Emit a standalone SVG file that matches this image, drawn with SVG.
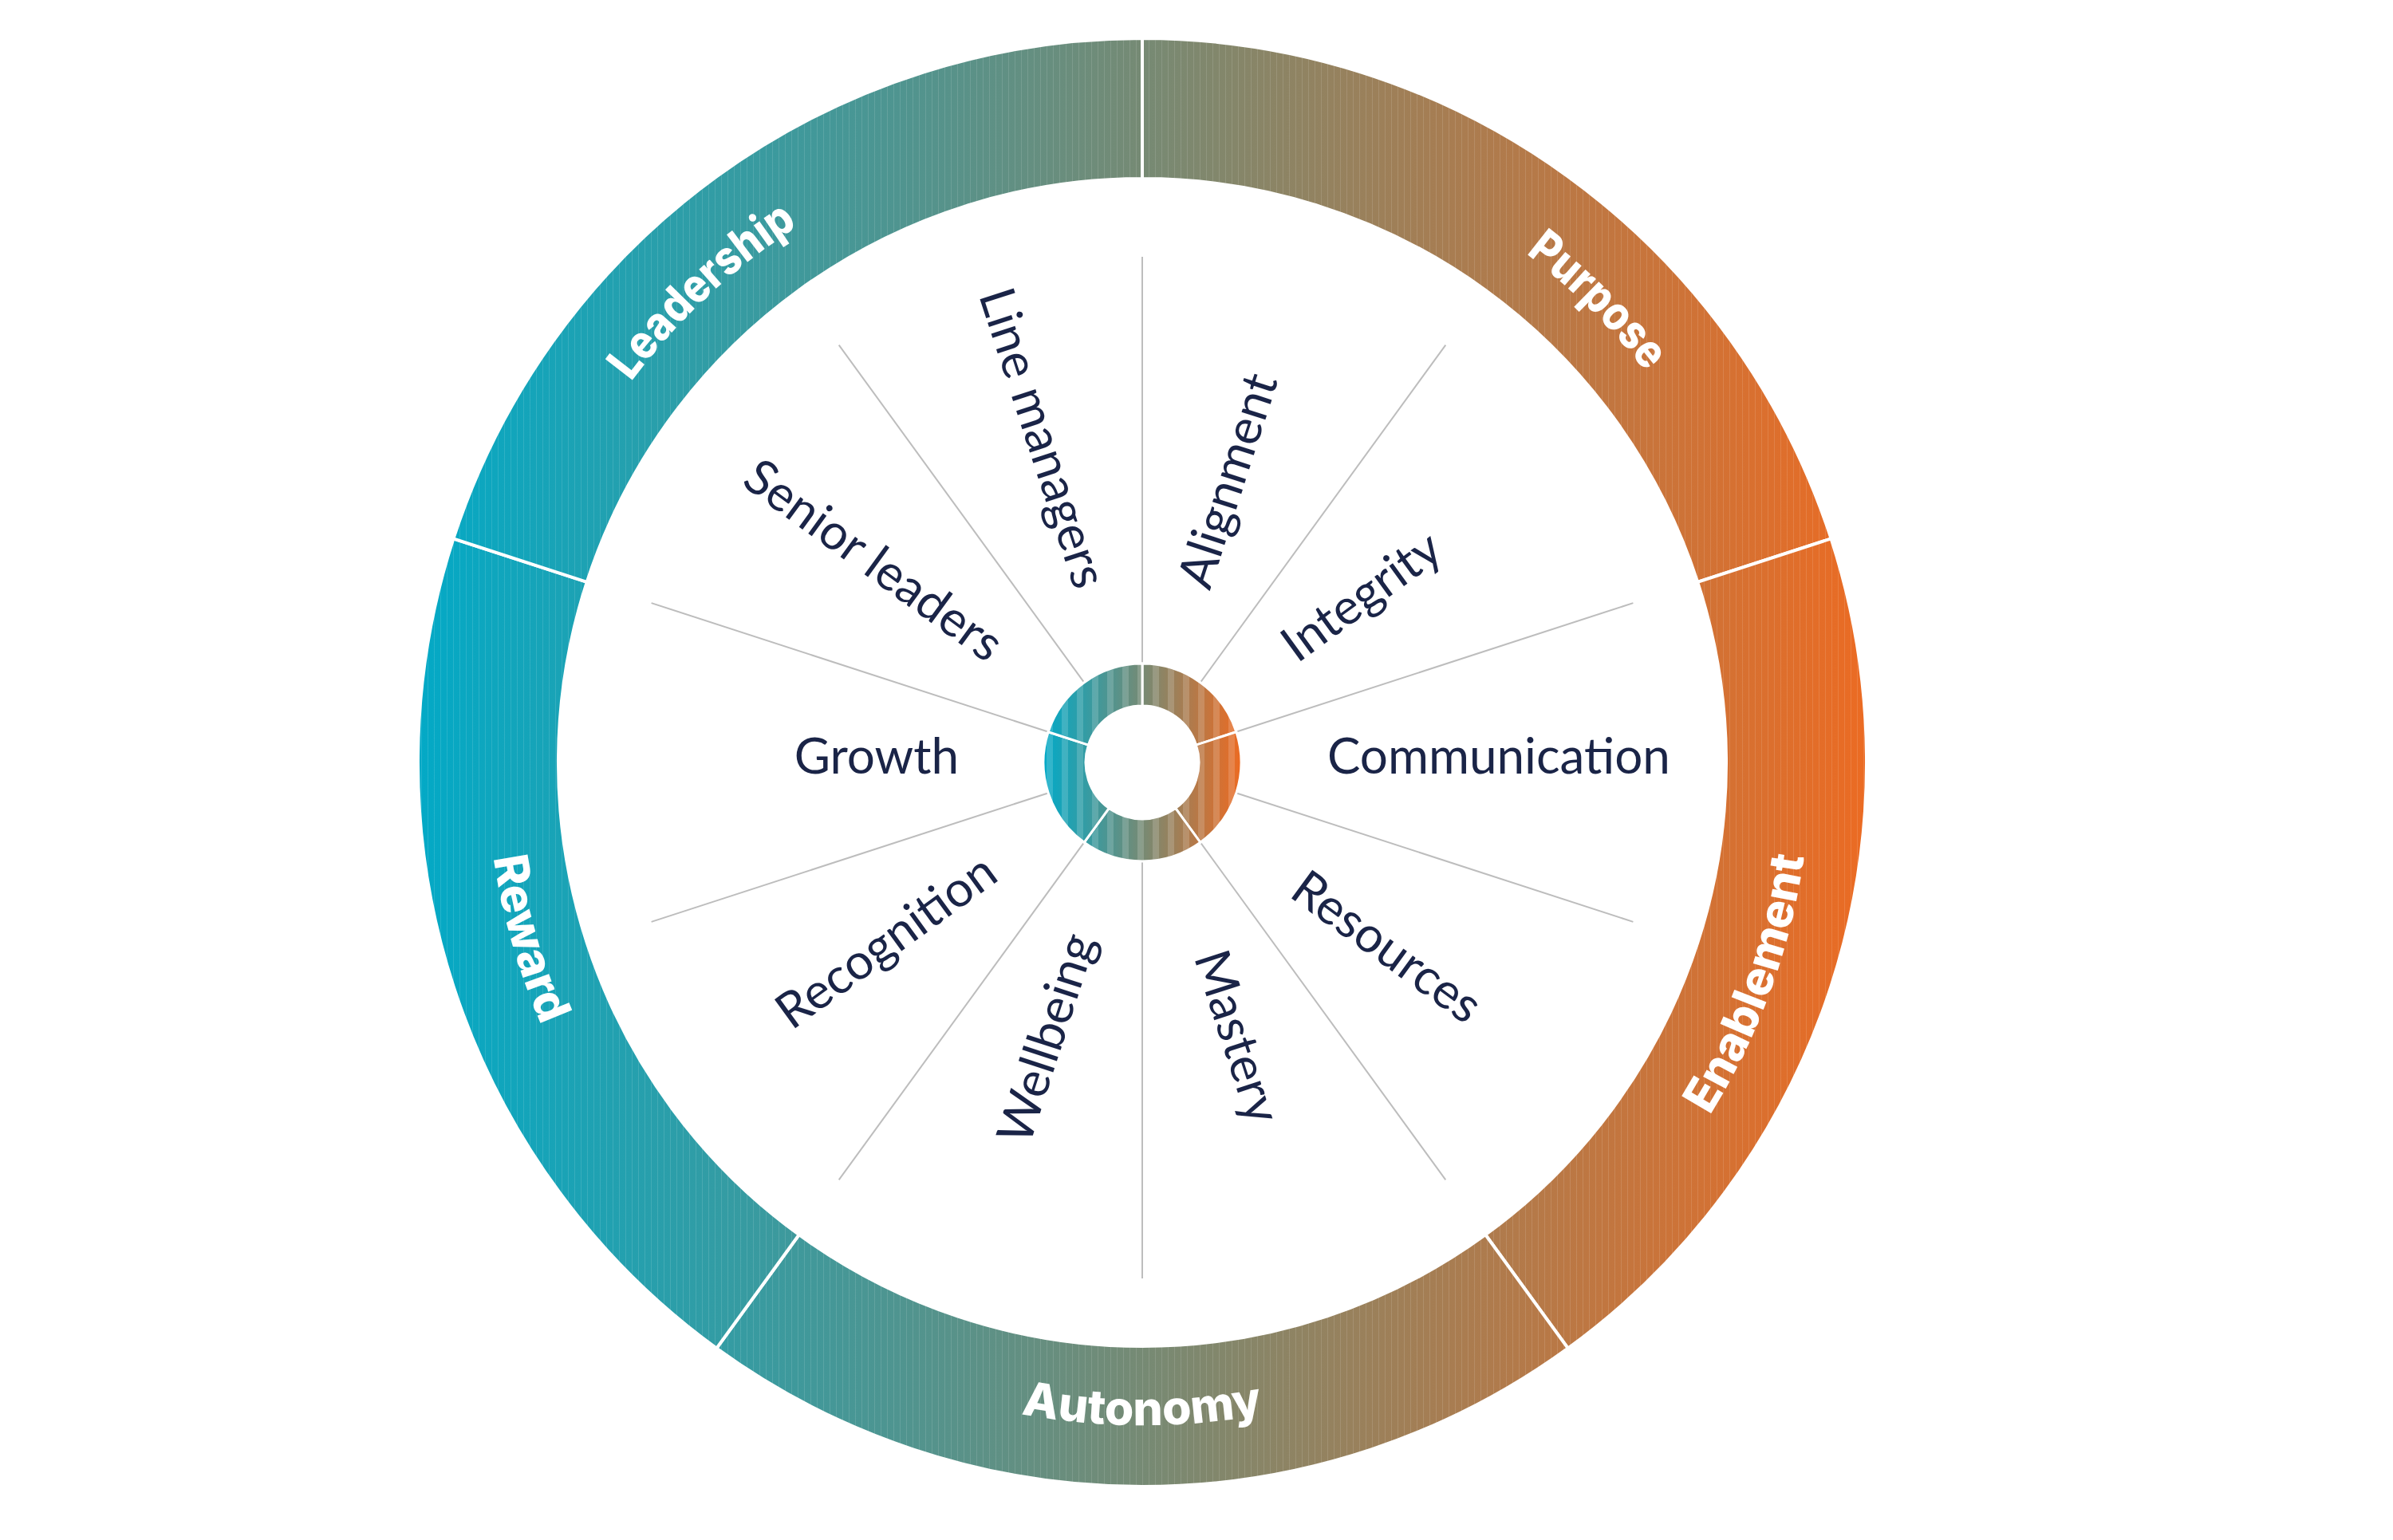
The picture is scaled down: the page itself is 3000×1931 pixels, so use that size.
<svg xmlns="http://www.w3.org/2000/svg" width="3000" height="1931" viewBox="0 0 3000 1931">
<defs>
<linearGradient id="gOuter" gradientUnits="userSpaceOnUse" x1="526" y1="0" x2="2338" y2="0">
<stop offset="0" stop-color="#03a9c6"/>
<stop offset="0.5" stop-color="#768a74"/>
<stop offset="1" stop-color="#eb6b23"/>
</linearGradient>
<linearGradient id="gInner" gradientUnits="userSpaceOnUse" x1="1310" y1="0" x2="1555" y2="0">
<stop offset="0" stop-color="#05a9c6"/>
<stop offset="0.5" stop-color="#768a74"/>
<stop offset="1" stop-color="#eb6b23"/>
</linearGradient>
<pattern id="pLines" patternUnits="userSpaceOnUse" x="0" y="0" width="8" height="40">
<rect x="0" y="0" width="1" height="40" fill="#ffffff" fill-opacity="0.12"/>
</pattern>
<pattern id="pBands" patternUnits="userSpaceOnUse" x="1312" y="0" width="19" height="40">
<rect x="0" y="0" width="8" height="40" fill="#ffffff" fill-opacity="0.16"/>
</pattern>
<path id="arcLeadership" d="M653.5,1135.8 A799,799 0 0 1 1665.6,191.9"/>
<path id="arcPurpose" d="M1219.8,185.7 A799,799 0 0 1 2205.2,1157.4"/>
<path id="arcEnablement" d="M1577.5,1781.3 A838,838 0 0 0 2073.9,417.3"/>
<path id="arcAutonomy" d="M712.3,1371.5 A831,831 0 0 0 2151.7,1371.5"/>
<path id="arcReward" d="M840.7,385.0 A822,822 0 0 0 1233.2,1753.6"/>
</defs>
<style>
.seg{fill:url(#gOuter);stroke:#ffffff;stroke-width:4;stroke-linejoin:miter}
.segl{fill:url(#pLines);stroke:none}
.hub{fill:url(#gInner);stroke:#ffffff;stroke-width:3}
.hubb{fill:url(#pBands);stroke:none}
.ring-label{font-family:"Inter","Lato","Liberation Sans",sans-serif;font-weight:800;font-size:59px;fill:#ffffff}
.item{font-family:"Lato","Liberation Sans",sans-serif;font-weight:400;font-size:62px;fill:#1a2447}
.spoke{stroke:#bdbdbd;stroke-width:2;fill:none}
</style>
<rect x="0" y="0" width="3000" height="1931" fill="#ffffff"/>

<g id="connectors">
<line class="spoke" x1="1432" y1="834" x2="1432" y2="322"/>
<line class="spoke" x1="1503.7" y1="857.3" x2="1812.3" y2="432.6"/>
<line class="spoke" x1="1548.0" y1="918.3" x2="2047.4" y2="756.1"/>
<line class="spoke" x1="1548.0" y1="993.7" x2="2047.4" y2="1155.9"/>
<line class="spoke" x1="1503.7" y1="1054.7" x2="1812.3" y2="1479.4"/>
<line class="spoke" x1="1432" y1="1078" x2="1432" y2="1603"/>
<line class="spoke" x1="1360.3" y1="1054.7" x2="1051.7" y2="1479.4"/>
<line class="spoke" x1="1316.0" y1="993.7" x2="816.6" y2="1155.9"/>
<line class="spoke" x1="1316.0" y1="918.3" x2="816.6" y2="756.1"/>
<line class="spoke" x1="1360.3" y1="857.3" x2="1051.7" y2="432.6"/>
</g>

<g id="purpose">
<path class="seg" d="M1432,48 A908,908 0 0 1 2295.6,675.4 L2128.2,729.8 A732,732 0 0 0 1432,224 Z"/>
<path class="segl" d="M1434,50 A906,906 0 0 1 2293.6,676 L2130,731 A734,734 0 0 0 1434,222 Z"/>
<text class="ring-label"><textPath href="#arcPurpose" startOffset="50%" text-anchor="middle" textLength="212" lengthAdjust="spacingAndGlyphs">Purpose</textPath></text>
</g>
<g id="enablement">
<path class="seg" d="M2295.6,675.4 A908,908 0 0 1 1965.7,1690.6 L1862.3,1548.2 A732,732 0 0 0 2128.2,729.8 Z"/>
<path class="segl" d="M2295.6,675.4 A908,908 0 0 1 1965.7,1690.6 L1862.3,1548.2 A732,732 0 0 0 2128.2,729.8 Z"/>
<text class="ring-label"><textPath href="#arcEnablement" startOffset="50%" text-anchor="middle">Enablement</textPath></text>
</g>
<g id="autonomy">
<path class="seg" d="M1965.7,1690.6 A908,908 0 0 1 898.3,1690.6 L1001.7,1548.2 A732,732 0 0 0 1862.3,1548.2 Z"/>
<path class="segl" d="M1965.7,1690.6 A908,908 0 0 1 898.3,1690.6 L1001.7,1548.2 A732,732 0 0 0 1862.3,1548.2 Z"/>
<text class="ring-label"><textPath href="#arcAutonomy" startOffset="50%" text-anchor="middle">Autonomy</textPath></text>
</g>
<g id="reward">
<path class="seg" d="M898.3,1690.6 A908,908 0 0 1 568.4,675.4 L735.8,729.8 A732,732 0 0 0 1001.7,1548.2 Z"/>
<path class="segl" d="M898.3,1690.6 A908,908 0 0 1 568.4,675.4 L735.8,729.8 A732,732 0 0 0 1001.7,1548.2 Z"/>
<text class="ring-label"><textPath href="#arcReward" startOffset="50%" text-anchor="middle">Reward</textPath></text>
</g>
<g id="leadership">
<path class="seg" d="M568.4,675.4 A908,908 0 0 1 1432,48 L1432,224 A732,732 0 0 0 735.8,729.8 Z"/>
<path class="segl" d="M568.4,675.4 A908,908 0 0 1 1432,48 L1432,224 A732,732 0 0 0 735.8,729.8 Z"/>
<text class="ring-label"><textPath href="#arcLeadership" startOffset="50%" text-anchor="middle" textLength="288" lengthAdjust="spacingAndGlyphs">Leadership</textPath></text>
</g>

<g id="hub">
<path class="hub" d="M1432,832 A124,124 0 0 1 1549.9,917.7 L1499.5,934.1 A71,71 0 0 0 1432,885 Z"/>
<path class="hub" d="M1549.9,917.7 A124,124 0 0 1 1504.9,1056.3 L1473.7,1013.4 A71,71 0 0 0 1499.5,934.1 Z"/>
<path class="hub" d="M1504.9,1056.3 A124,124 0 0 1 1359.1,1056.3 L1390.3,1013.4 A71,71 0 0 0 1473.7,1013.4 Z"/>
<path class="hub" d="M1359.1,1056.3 A124,124 0 0 1 1314.1,917.7 L1364.5,934.1 A71,71 0 0 0 1390.3,1013.4 Z"/>
<path class="hub" d="M1314.1,917.7 A124,124 0 0 1 1432,832 L1432,885 A71,71 0 0 0 1364.5,934.1 Z"/>
<path class="hubb" d="M1433.5,833.5 A122.5,122.5 0 0 1 1548,917 L1499,932.6 A72.5,72.5 0 0 0 1433.5,883.5 Z"/>
<path class="hubb" d="M1549.9,919.5 A122.5,122.5 0 0 1 1506,1054 L1475,1012 A72.5,72.5 0 0 0 1500.5,936 Z"/>
<path class="hubb" d="M1503,1057.5 A122.5,122.5 0 0 1 1361,1057.5 L1391.5,1015 A72.5,72.5 0 0 0 1472.5,1015 Z"/>
<path class="hubb" d="M1358,1054 A122.5,122.5 0 0 1 1314.1,919.5 L1363.5,936 A72.5,72.5 0 0 0 1389,1012 Z"/>
<path class="hubb" d="M1316,916 A122.5,122.5 0 0 1 1430.5,833.5 L1430.5,883.5 A72.5,72.5 0 0 0 1365,932.6 Z"/>
</g>

<g id="item-alignment" transform="translate(1432,956) rotate(-72)"><text class="item" x="230" y="14">Alignment</text></g>
<g id="item-integrity" transform="translate(1432,956) rotate(-36)"><text class="item" x="230" y="14">Integrity</text></g>
<g id="item-communication" transform="translate(1432,956)"><text class="item" x="232" y="14">Communication</text></g>
<g id="item-resources" transform="translate(1432,956) rotate(36)"><text class="item" x="246" y="28">Resources</text></g>
<g id="item-mastery" transform="translate(1432,956) rotate(72)"><text class="item" x="252" y="14">Mastery</text></g>
<g id="item-wellbeing" transform="translate(1432,956) rotate(-72)"><text class="item" x="-230" y="14" text-anchor="end">Wellbeing</text></g>
<g id="item-recognition" transform="translate(1432,956) rotate(-36)"><text class="item" x="-230" y="14" text-anchor="end">Recognition</text></g>
<g id="item-growth" transform="translate(1432,956)"><text class="item" x="-230" y="14" text-anchor="end">Growth</text></g>
<g id="item-senior-leaders" transform="translate(1432,956) rotate(36)"><text class="item" x="-230" y="14" text-anchor="end">Senior leaders</text></g>
<g id="item-line-managers" transform="translate(1432,956) rotate(72)"><text class="item" x="-230" y="14" text-anchor="end">Line managers</text></g>
</svg>
